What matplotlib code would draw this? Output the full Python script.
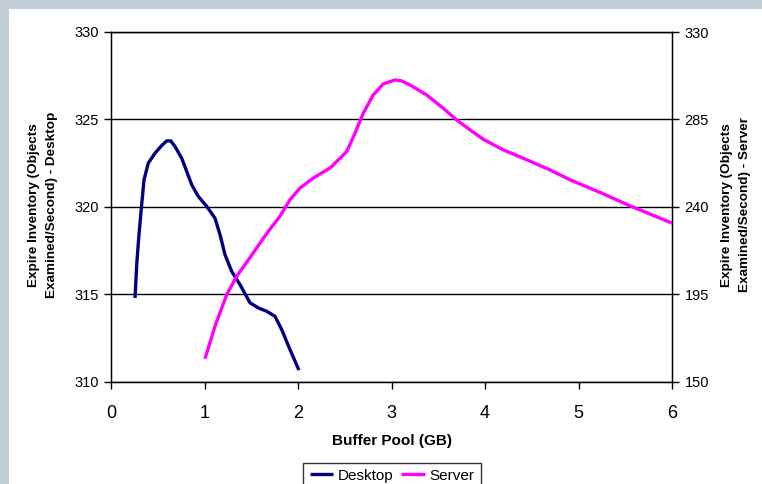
import matplotlib
matplotlib.use("Agg")
import matplotlib.pyplot as plt
from matplotlib.patches import Rectangle

plt.rcParams['font.family'] = ['Liberation Sans', 'DejaVu Sans']

desktop_x = [0.257, 0.275, 0.299, 0.328, 0.353, 0.399, 0.471, 0.542, 0.596, 0.639, 0.684,
             0.756, 0.81, 0.863, 0.934, 1.024, 1.112, 1.166, 1.219, 1.291, 1.38, 1.487,
             1.58, 1.665, 1.754, 1.826, 1.914, 2.01]
desktop_y = [314.78, 316.69, 318.4, 320.11, 321.54, 322.5, 323.07, 323.5, 323.77, 323.77, 323.45,
             322.78, 322.02, 321.26, 320.59, 320.02, 319.35, 318.4, 317.26, 316.3, 315.54, 314.5,
             314.2, 314.02, 313.73, 312.97, 311.83, 310.65]

server_x = [1.005, 1.112, 1.237, 1.344, 1.451, 1.558, 1.682, 1.807, 1.914, 2.021, 2.164,
            2.342, 2.521, 2.61, 2.698, 2.805, 2.912, 3.037, 3.109, 3.198, 3.376, 3.554,
            3.697, 3.84, 3.98, 4.196, 4.446, 4.695, 4.909, 5.23, 5.55, 6.0]
server_y = [161.7, 178.4, 194.7, 204.2, 211.4, 218.8, 227.3, 235.1, 243.6, 249.6, 254.8,
            259.9, 268.4, 277.9, 288.2, 297.6, 303.3, 305.3, 304.8, 302.7, 297.6, 290.7,
            284.7, 279.6, 274.8, 269.3, 264.2, 259.0, 253.9, 247.4, 240.5, 231.6]

x_ticks = [0, 1, 2, 3, 4, 5, 6]
left_ticks = [310, 315, 320, 325, 330]
right_ticks = [150, 195, 240, 285, 330]

W, H = 762, 484
fig = plt.figure(figsize=(W / 100, H / 100), dpi=100)
fig.patch.set_facecolor('#c2cfd8')
fig.patches.append(Rectangle((9 / W, 0), 1, 1 - 9 / H, transform=fig.transFigure,
                             facecolor='white', edgecolor='none', zorder=-10))

ax = fig.add_axes([111 / W, 1 - 381.5 / H, (672 - 111) / W, (381.5 - 32) / H])
ax.set_facecolor('none')
ax.set_xlim(0, 6)
ax.set_ylim(310, 330)
ax.set_xticks(x_ticks)
ax.set_yticks(left_ticks)
ax.tick_params(axis='x', direction='out', length=5, width=1, labelsize=13, pad=12)
ax.tick_params(axis='y', direction='out', length=5, width=1, labelsize=10.5, pad=4)
ax.grid(axis='y', color='black', linewidth=1)
for s in ax.spines.values():
    s.set_color('black')
    s.set_linewidth(1)

l1, = ax.plot(desktop_x, desktop_y, color='#000080', linewidth=2.4,
              solid_capstyle='butt', solid_joinstyle='round', zorder=3)

ax2 = ax.twinx()
ax2.set_ylim(150, 330)
ax2.set_yticks(right_ticks)
ax2.tick_params(axis='y', direction='out', length=5, width=1, labelsize=10.5, pad=4)
l2, = ax2.plot(server_x, server_y, color='#ff00ff', linewidth=2.4,
               solid_capstyle='butt', solid_joinstyle='round', zorder=3)

fig.text(43 / W, 1 - 205 / H, 'Expire Inventory (Objects\nExamined/Second) - Desktop',
         rotation=90, ha='center', va='center', fontsize=9.7, fontweight='bold', linespacing=1.6)
fig.text(736 / W, 1 - 205 / H, 'Expire Inventory (Objects\nExamined/Second) - Server',
         rotation=90, ha='center', va='center', fontsize=9.7, fontweight='bold', linespacing=1.6)
fig.text(392 / W, 1 - 441 / H, 'Buffer Pool (GB)', ha='center', va='center',
         fontsize=11, fontweight='bold')

leg = fig.legend([l1, l2], ['Desktop', 'Server'], loc='upper center',
                 bbox_to_anchor=(392 / W, 1 - 462.5 / H), ncol=2, frameon=True,
                 fancybox=False, edgecolor='black', fontsize=11, handlelength=1.55,
                 handletextpad=0.3, columnspacing=0.5, borderpad=0.4, borderaxespad=0)
leg.get_frame().set_linewidth(1)

fig.savefig('out.png', dpi=100, facecolor=fig.get_facecolor())
